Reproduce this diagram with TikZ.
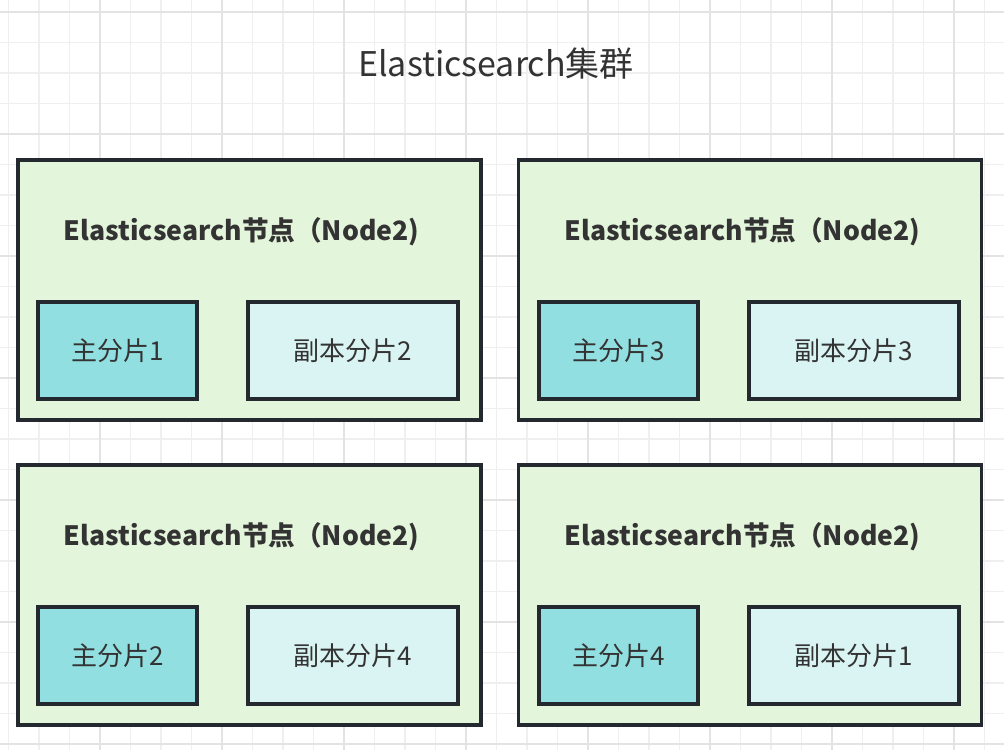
\documentclass[tikz,border=0pt]{standalone}
\usepackage{fontspec}
\setmainfont{Noto Sans CJK SC}
\definecolor{gridminor}{HTML}{EFEFEF}
\definecolor{gridmajor}{HTML}{E3E3E3}
\definecolor{nodefill}{HTML}{E3F5DA}
\definecolor{primfill}{HTML}{92DFE1}
\definecolor{repfill}{HTML}{D9F4F3}
\definecolor{bordercol}{HTML}{23292E}
\definecolor{txt}{HTML}{333333}
\tikzset{
  esnode/.style={draw=bordercol, fill=nodefill, line width=3.2pt, minimum width=463pt, minimum height=260pt, inner sep=0pt},
  prim/.style={draw=bordercol, fill=primfill, line width=3.2pt, minimum width=159pt, minimum height=97pt, inner sep=0pt, text=txt, font=\fontsize{26}{29}\selectfont},
  rep/.style={draw=bordercol, fill=repfill, line width=3.2pt, minimum width=210pt, minimum height=97pt, inner sep=0pt, text=txt, font=\fontsize{26}{29}\selectfont},
  nlabel/.style={text=txt, font=\fontsize{26.6}{30}\selectfont\bfseries, inner sep=0pt},
}
\begin{document}
\begin{tikzpicture}[x=1pt,y=-1pt]
\useasboundingbox (0,0) rectangle (1004,750);
\fill[white] (0,0) rectangle (1004,750);
% grid
\foreach \i in {0,...,32} {
  \pgfmathsetmacro\xx{8.5+30.5*\i}
  \draw[gridminor, line width=1.5pt] (\xx,0) -- (\xx,750);
}
\foreach \i in {0,...,24} {
  \pgfmathsetmacro\yy{12+30.5*\i}
  \draw[gridminor, line width=1.5pt] (0,\yy) -- (1004,\yy);
}
\foreach \i in {0,...,8} {
  \pgfmathsetmacro\xx{-22+122*\i}
  \draw[gridmajor, line width=1.8pt] (\xx,0) -- (\xx,750);
}
\foreach \i in {0,...,6} {
  \pgfmathsetmacro\yy{12+122*\i}
  \draw[gridmajor, line width=1.8pt] (0,\yy) -- (1004,\yy);
}
\node[text=txt, font=\fontsize{34}{38}\selectfont, inner sep=0pt] (title) at (496,64) {Elasticsearch集群};

\node[esnode] (n1) at (249.5,290) {};
\node[esnode] (n2) at (750,290) {};
\node[esnode] (n3) at (249.5,595) {};
\node[esnode] (n4) at (750,595) {};

\node[nlabel] (l1) at (241.5,232) {Elasticsearch节点（Node2)};
\node[nlabel] (l2) at (742.5,232) {Elasticsearch节点（Node2)};
\node[nlabel] (l3) at (241.5,537) {Elasticsearch节点（Node2)};
\node[nlabel] (l4) at (742.5,537) {Elasticsearch节点（Node2)};

\node[prim] (p1) at (117.5,350.5) {主分片1};
\node[rep]  (r1) at (353,350.5) {副本分片2};
\node[prim] (p2) at (618.5,350.5) {主分片3};
\node[rep]  (r2) at (854,350.5) {副本分片3};
\node[prim] (p3) at (117.5,655.5) {主分片2};
\node[rep]  (r3) at (353,655.5) {副本分片4};
\node[prim] (p4) at (618.5,655.5) {主分片4};
\node[rep]  (r4) at (854,655.5) {副本分片1};
\end{tikzpicture}
\end{document}
